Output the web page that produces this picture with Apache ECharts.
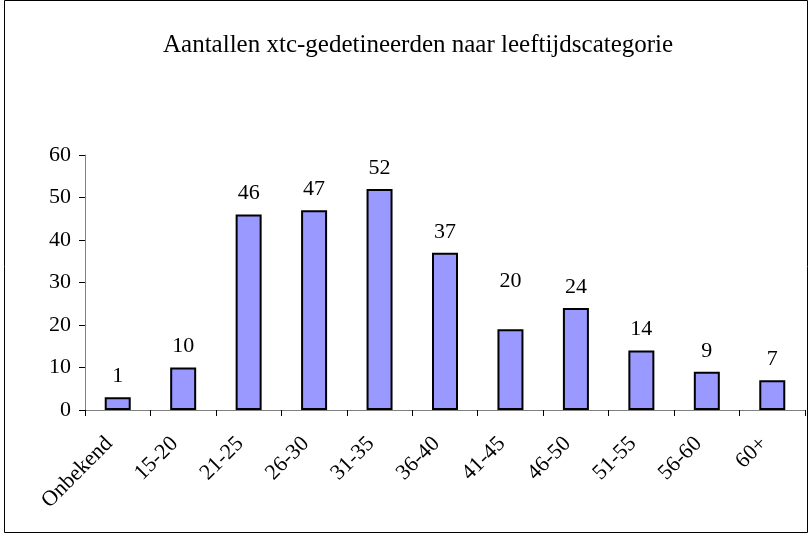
<!DOCTYPE html>
<html>
<head>
<meta charset="utf-8">
<script src="https://cdn.jsdelivr.net/npm/echarts@6/dist/echarts.min.js"></script>
<style>
  html, body { margin: 0; padding: 0; background: #fff; }
  #main { width: 812px; height: 537px; }
</style>
</head>
<body>
<div id="main"></div>
<script>
// leeftijdscategorieen
var categories = ['Onbekend', '15-20', '21-25', '26-30', '31-35', '36-40', '41-45', '46-50', '51-55', '56-60', '60+'];
// hoogte van de staven zoals getekend
var barValues = [3, 10, 46, 47, 52, 37, 19, 24, 14, 9, 7];
// labels boven de staven (wijken soms af van de staafhoogte)
var labelTexts = ['1', '10', '46', '47', '52', '37', '20', '24', '14', '9', '7'];
var yTicks = { min: 0, max: 60, interval: 10 };

var chart = echarts.init(document.getElementById('main'));

var seriesData = barValues.map(function (v, i) {
    var item = { value: v, label: { formatter: labelTexts[i] } };
    // label '20' staat hoger dan de staaf
    if (i === 6) item.label.offset = [0, -27];
    return item;
});

chart.setOption({
    animation: false,
    textStyle: { fontFamily: 'Liberation Serif' },
    title: {
        text: 'Aantallen xtc-gedetineerden naar leeftijdscategorie',
        left: 158,
        top: 28,
        textStyle: { fontFamily: 'Liberation Serif', fontSize: 25, fontWeight: 'normal', color: '#000' }
    },
    graphic: [{
        type: 'rect',
        shape: { x: 4.5, y: 0.5, width: 803, height: 532 },
        style: { fill: 'none', stroke: '#000', lineWidth: 1 },
        silent: true
    }],
    grid: { left: 85, right: 7, top: 155, bottom: 127 },
    xAxis: {
        type: 'category',
        data: categories,
        axisLine: { lineStyle: { color: '#808080', width: 1 } },
        axisTick: { show: true, length: 6, lineStyle: { color: '#000' } },
        axisLabel: {
            rotate: 45,
            color: '#000',
            fontFamily: 'Liberation Serif',
            fontSize: 22,
            margin: 22,
            padding: [0, 12, 0, 0],
            interval: 0
        }
    },
    yAxis: {
        type: 'value',
        min: yTicks.min,
        max: yTicks.max,
        interval: yTicks.interval,
        splitLine: { show: false },
        axisLine: { show: true, lineStyle: { color: '#808080', width: 1 } },
        axisTick: { show: true, length: 6, lineStyle: { color: '#000' } },
        axisLabel: {
            color: '#000',
            fontFamily: 'Liberation Serif',
            fontSize: 22,
            margin: 14
        }
    },
    series: [{
        type: 'bar',
        data: seriesData,
        barWidth: 26,
        itemStyle: { color: '#9999ff', borderColor: '#000', borderWidth: 2 },
        label: {
            show: true,
            position: 'top',
            distance: 10,
            color: '#000',
            fontFamily: 'Liberation Serif',
            fontSize: 22
        }
    }]
});
</script>
</body>
</html>
